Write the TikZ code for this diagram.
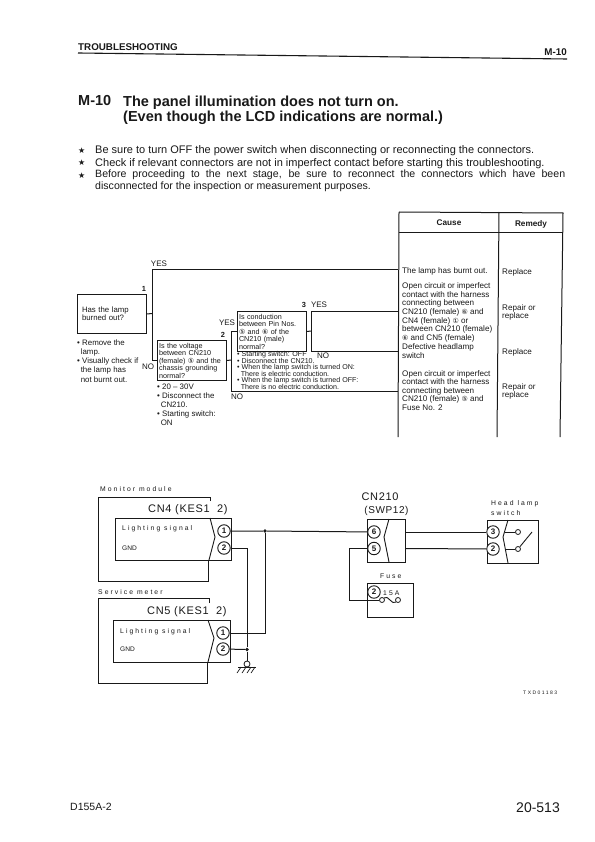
\documentclass[tikz,border=0pt]{standalone}
\usepackage{fontspec}
\setmainfont{Liberation Sans}
\newfontfamily\symfont{DejaVu Sans}
\newfontfamily\wirefont[LetterSpace=30]{Liberation Sans}
\newfontfamily\conmfont[LetterSpace=6]{Liberation Sans}
\usetikzlibrary{positioning,calc}
\definecolor{Ink}{RGB}{25,25,25}
\setlength{\lineskiplimit}{-20pt}
\newcommand{\cnum}[1]{{\symfont\scriptsize #1}}
\newcommand{\hng}{\hspace*{3.6pt}}
\tikzset{
  qbox/.style={rectangle,draw=Ink,line width=1pt,inner sep=1pt,text=Ink,
               font=\fontsize{7.2}{7.5}\selectfont,align=left,anchor=north west},
  note/.style={text=Ink,font=\fontsize{7.9}{9.1}\selectfont,align=left,anchor=west,inner sep=0pt},
  tight/.style={note,font=\fontsize{7.1}{6.55}\selectfont},
  ctext/.style={note,font=\fontsize{8.1}{8.6}\selectfont},
  flag/.style={text=Ink,font=\fontsize{8}{8}\selectfont,inner sep=0pt},
  numb/.style={flag,font=\bfseries\fontsize{7.4}{8}\selectfont},
  head/.style={anchor=west,inner sep=0pt,text=Ink,font=\bfseries\fontsize{9.8}{10}\selectfont},
  titl/.style={anchor=west,inner sep=0pt,text=Ink,font=\bfseries\fontsize{14.5}{15}\selectfont},
  bull/.style={anchor=west,inner sep=0pt,text=Ink,font=\fontsize{11}{11.5}\selectfont},
  star/.style={anchor=west,inner sep=0pt,text=Ink,font=\symfont\fontsize{8}{8}\selectfont},
  wire/.style={draw=Ink,line width=1pt},
  tline/.style={draw=Ink,line width=1pt},
  cbox/.style={draw=Ink,line width=.9pt},
  cpin/.style={circle,draw=Ink,line width=.9pt,minimum size=12.5pt,inner sep=0pt,
               fill=white,text=Ink,font=\fontsize{8}{8}\bfseries\selectfont},
  ring/.style={circle,draw=Ink,line width=.8pt,minimum size=5pt,inner sep=0pt,fill=white},
  dotj/.style={circle,fill=Ink,minimum size=3.8pt,inner sep=0pt},
  lbl/.style={text=Ink,font=\wirefont\fontsize{6.8}{8}\selectfont,inner sep=0pt,anchor=west},
  gndl/.style={text=Ink,font=\fontsize{6.6}{8}\selectfont,inner sep=0pt,anchor=west},
  conm/.style={text=Ink,font=\conmfont\fontsize{11}{12}\selectfont,inner sep=0pt},
}
\begin{document}
\begin{tikzpicture}[x=1pt,y=-1pt]
  \useasboundingbox[fill=white] (0,0) rectangle (594,842);

  \node[head] (trbl) at (78,47) {TROUBLESHOOTING};
  \node[head,anchor=east] (code) at (567,52) {M-10};
  \draw[draw=Ink,line width=1.1pt] (78,53) -- (567,59);
  \node[titl] (mten) at (78,101) {M-10};
  \node[titl] (titlea) at (123,103) {The panel illumination does not turn on.};
  \node[titl] (titleb) at (123,118) {(Even though the LCD indications are normal.)};
  \node[star] (stara) at (78,150.5) {★};
  \node[star] (starb) at (78,163) {★};
  \node[star] (starc) at (78,175.5) {★};
  \node[bull] (linea) at (95,151) {Be sure to turn OFF the power switch when disconnecting or reconnecting the connectors.};
  \node[bull] (lineb) at (95,163.5) {Check if relevant connectors are not in imperfect contact before starting this troubleshooting.};
  \node[bull,anchor=north west,text width=470pt,align=justify,font=\fontsize{10.6}{11.8}\selectfont] (linec) at (95,170)
    {Before proceeding to the next stage, be sure to reconnect the connectors which have been\linebreak disconnected for the inspection or measurement purposes.};

  \coordinate (tl) at (399,212);
  \coordinate (tm) at (499,212);
  \coordinate (tr) at (563,213);
  \draw[tline] (tl) -- (tr) -- (560,437);
  \draw[tline] (tl) -- (398,437);
  \draw[tline] (tm) -- (497,437);
  \draw[tline] (399,232) -- (563,232);
  \node[text=Ink,font=\bfseries\fontsize{8.2}{9}\selectfont,inner sep=0pt] (cause) at (449,223) {Cause};
  \node[text=Ink,font=\bfseries\fontsize{8.2}{9}\selectfont,inner sep=0pt] (remedy) at (531,224) {Remedy};

  \node[qbox,minimum width=69pt,minimum height=39pt,text width=60pt,inner xsep=4pt,font=\fontsize{7.8}{8}\selectfont] (qa) at (77,294)
    {Has the lamp\\burned out?};
  \node[qbox,minimum width=69pt,minimum height=40pt,text width=66pt] (qb) at (157,340)
    {Is the voltage\\between CN210\\(female) \cnum{⑤} and the\\chassis grounding\\normal?};
  \node[qbox,minimum width=69pt,minimum height=40pt,text width=66pt] (qc) at (237,311)
    {Is conduction\\between Pin Nos.\\\cnum{⑤} and \cnum{⑥} of the\\CN210 (male)\\normal?};

  \node[numb] (na) at (144,289) {1};
  \node[numb] (nb) at (223,335) {2};
  \node[numb] (nc) at (304,305) {3};

  \coordinate (ja) at (152,313.5);
  \coordinate (jb) at (231,360);
  \coordinate (jc) at (311,331);
  \coordinate (ca) at (398,269);
  \coordinate (cb) at (398,311);
  \coordinate (cc) at (398,351);
  \coordinate (cd) at (398,391);
  \draw[tline] (qa.east) -- (ja);
  \draw[tline] (ca) -- (ja |- ca) -- (ja |- qb.west) -- (qb.west);
  \draw[tline] (qb.east) -- (jb);
  \draw[tline] (qc.west) -- (jb |- qc.west) -- (jb |- cd) -- (cd);
  \draw[tline] (qc.east) -- (jc);
  \draw[tline] (cb) -- (jc |- cb) -- (jc |- cc) -- (cc);

  \node[flag] (ya) at (159,264) {YES};
  \node[flag] (nob) at (148,367) {NO};
  \node[flag] (yb) at (227,323) {YES};
  \node[flag] (yc) at (319,305) {YES};
  \node[flag] (noc) at (323,356) {NO};
  \node[flag] (nod) at (237,397) {NO};

  \node[note] (notea) at (77,361) {• Remove the\\\hng lamp.\\• Visually check if\\\hng the lamp has\\\hng not burnt out.};
  \node[note] (noteb) at (157,405) {• 20 – 30V\\• Disconnect the\\\hng CN210.\\• Starting switch:\\\hng ON};
  \node[tight] (notec) at (237,370.4) {• Starting switch: OFF\\• Disconnect the CN210.\\• When the lamp switch is turned ON:\\\hng There is electric conduction.\\• When the lamp switch is turned OFF:\\\hng There is no electric conduction.};

  \node[ctext] (causea) at (402,271) {The lamp has burnt out.};
  \node[ctext] (causeb) at (402,312.5) {Open circuit or imperfect\\contact with the harness\\connecting between\\CN210 (female) \cnum{⑥} and\\CN4 (female) \cnum{①} or\\between CN210 (female)\\\cnum{⑥} and CN5 (female)};
  \node[ctext] (causec) at (402,351) {Defective headlamp\\switch};
  \node[ctext] (caused) at (402,390.5) {Open circuit or imperfect\\contact with the harness\\connecting between\\CN210 (female) \cnum{⑤} and\\Fuse No. 2};
  \node[ctext] (rema) at (502,272) {Replace};
  \node[ctext] (remb) at (502,312.5) {Repair or\\replace};
  \node[ctext] (remc) at (502,352) {Replace};
  \node[ctext] (remd) at (502,391.5) {Repair or\\replace};

  \node[lbl] (monit) at (100,489) {Monitor module};
  \node[lbl] (servm) at (98,592) {Service meter};
  \draw[cbox] (210,501) -- (210,497) -- (98,497) -- (98,581) -- (208,581) -- (208,560);
  \draw[cbox] (209,603) -- (209,598) -- (98,598) -- (98,683) -- (207,683) -- (207,662);
  \node[conm,anchor=west] (cnfour) at (148,510) {CN4 (KES1~~2)};
  \node[conm,anchor=west] (cnfive) at (147,612) {CN5 (KES1~~2)};
  \draw[cbox] (115,518) rectangle (231,560);
  \draw[cbox] (113,620) rectangle (230,662);
  \draw[cbox] (210,518) -- (215,537) -- (209,560);
  \draw[cbox] (208,620) -- (214,638) -- (208,662);
  \node[lbl] (sigfour) at (122,529) {Lighting signal};
  \node[gndl] (gndfour) at (122,548) {GND};
  \node[lbl] (sigfive) at (120,632) {Lighting signal};
  \node[gndl] (gndfive) at (120,649) {GND};
  \node[cpin] (pfa) at (224,531) {1};
  \node[cpin] (pfb) at (224,548) {2};
  \node[cpin] (pva) at (223,633) {1};
  \node[cpin] (pvb) at (223,649) {2};

  \node[conm] (cnmain) at (380,497) {CN210};
  \node[conm,font=\conmfont\fontsize{10}{12}\selectfont] (cnsw) at (386.5,511) {(SWP12)};
  \draw[cbox] (367,519) rectangle (405,562);
  \draw[cbox] (389,519) -- (384,537) -- (389,562);
  \node[cpin] (psix) at (374,532) {6};
  \node[cpin] (pfiv) at (374,548.5) {5};

  \node[lbl] (heada) at (491,504) {Head lamp};
  \node[lbl] (headb) at (491,513) {switch};
  \draw[cbox] (487,520) rectangle (538,563);
  \draw[cbox] (508,520) -- (503,537) -- (508,563);
  \node[cpin] (pthr) at (493,532) {3};
  \node[cpin] (ptwo) at (493,549) {2};
  \node[ring] (ra) at (518,532) {};
  \node[ring] (rb) at (518,549) {};
  \coordinate (blade) at (532,532);
  \draw[cbox] (505,532) -- (ra);
  \draw[cbox] (505,549) -- (rb);
  \draw[cbox] (rb) -- (blade);

  \node[lbl] (fuse) at (380,576) {Fuse};
  \draw[cbox] (367,583) rectangle (413,617);
  \node[cpin] (pfus) at (374,592) {2};
  \node[lbl] (amps) at (383,593) {15A};
  \node[ring] (fa) at (382,600) {};
  \node[ring] (fb) at (398,600) {};
  \draw[cbox] (fa) .. controls (388,594) and (392,606) .. (fb);

  \node[dotj] (da) at (265,531) {};
  \node[dotj] (db) at (247,649.5) {};
  \node[ring,minimum size=6pt] (gring) at (247,664) {};
  \draw[wire] (pfa) -- (da) -- (psix);
  \draw[wire] (da) -- (da |- pva) -- (pva);
  \draw[wire] (pfb) -- (db |- pfb) -- (db) -- (gring);
  \draw[wire] (pvb) -- (db);
  \draw[wire] (405,532) -- (pthr);
  \draw[wire] (405,548.5) -- (ptwo);
  \draw[wire] (pfiv) -- (349,548.5) -- (349,600) -- (fa);

  \coordinate (ga) at (238,667);
  \coordinate (gb) at (256,667);
  \draw[wire] (ga) -- (gb);
  \foreach \hx in {241,246,251,255} \draw[wire,line width=.7pt] (\hx,667) -- (\hx-4,673);

  \node[lbl,font=\wirefont\fontsize{5}{7}\selectfont] (txcode) at (523,693) {TXD01183};
  \node[anchor=west,inner sep=0pt,text=Ink,font=\fontsize{10.5}{11}\selectfont] (model) at (70,807) {D155A-2};
  \node[anchor=east,inner sep=0pt,text=Ink,font=\fontsize{14}{15}\selectfont] (page) at (560,808) {20-513};
\end{tikzpicture}
\end{document}
